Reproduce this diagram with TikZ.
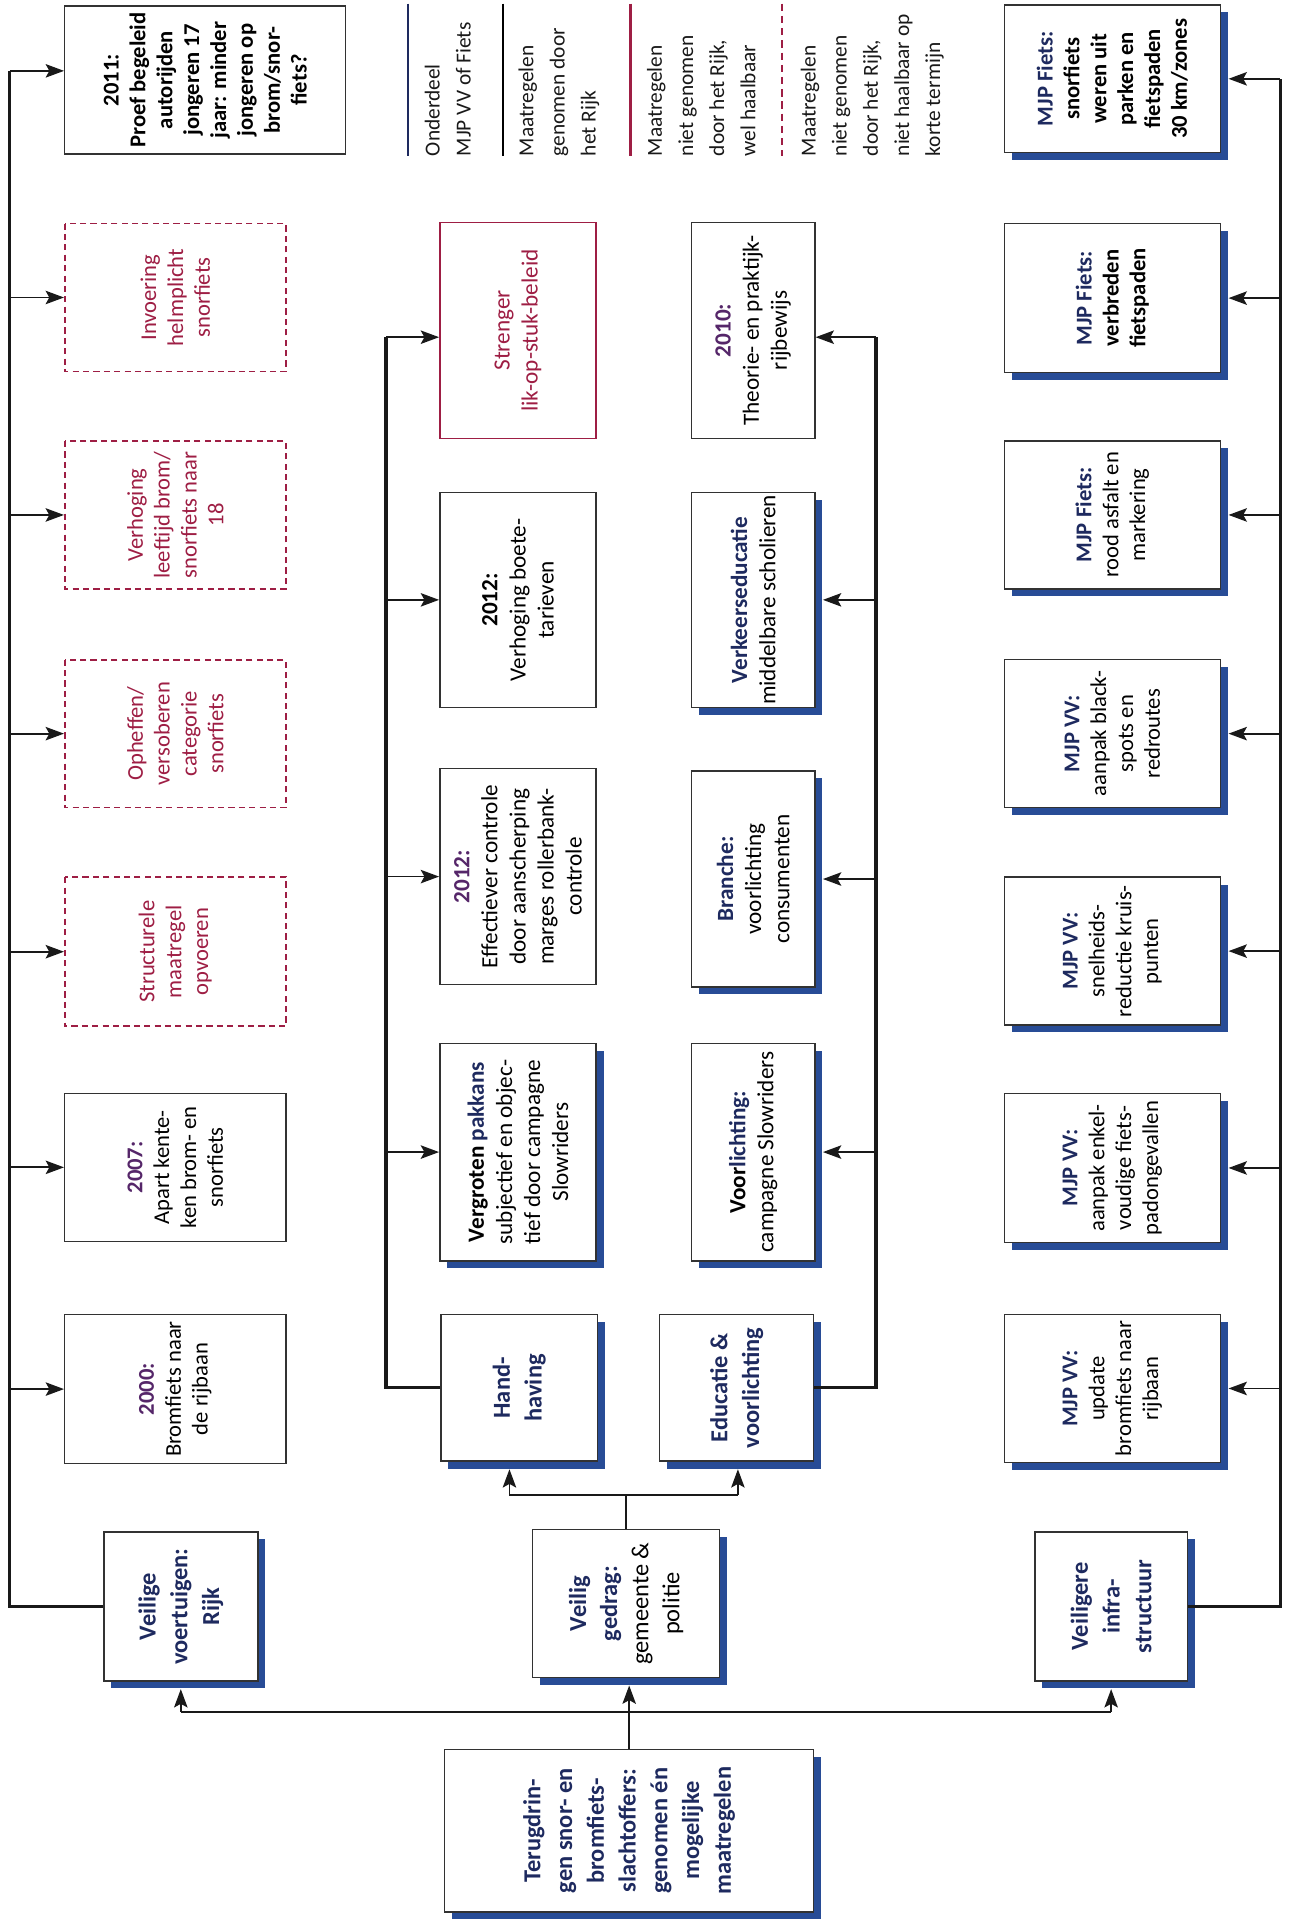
\documentclass[tikz,border=0pt]{standalone}
\usepackage{fontspec}
\setmainfont{Carlito}
\usetikzlibrary{arrows.meta}
\definecolor{navyt}{RGB}{30,42,95}
\definecolor{shadowb}{RGB}{40,76,150}
\definecolor{redc}{RGB}{158,30,68}
\definecolor{purp}{RGB}{85,38,105}
\definecolor{boxg}{RGB}{50,50,50}
\definecolor{lineg}{RGB}{25,25,25}
\newcommand\nv[1]{{\bfseries\color{navyt}#1}}
\newcommand\pb[1]{{\bfseries\color{purp}#1}}
\newcommand\mkbox[7]{\node[#6, minimum width={#5-#3}, minimum height={#4-#2}] (#1) at ({(#2+#4)/2},{(#3+#5)/2}) {#7};}
\newcommand\mkboxs[7]{\fill[shadowb] (#2+6,#3+6) rectangle (#4+6,#5+6); \mkbox{#1}{#2}{#3}{#4}{#5}{#6}{#7}}
\tikzset{
 bxb/.style={rotate=90, align=center, inner sep=0pt, fill=white, line width=1.2pt, font=\fontsize{18.5}{22}\selectfont},
 pbox/.style={bxb, draw=boxg},
 dbox/.style={bxb, draw=redc, line width=1.3pt, dash pattern=on 5pt off 3.5pt, text=redc},
 rbox/.style={bxb, draw=redc, text=redc},
 tbox/.style={bxb, draw=boxg, text=navyt, font=\bfseries\fontsize{20}{26}\selectfont},
 gbox/.style={bxb, draw=boxg, font=\fontsize{20}{25.5}\selectfont},
 wbox/.style={pbox, font=\fontsize{19}{23}\selectfont},
 conn/.style={draw=lineg, line width=1.5pt},
 trk/.style={draw=lineg, line width=2.6pt},
 arr/.style={conn, -{Stealth[length=15pt,width=11pt,inset=3pt]}},
 leg/.style={rotate=90, align=left, anchor=west, inner sep=0pt, text=black!90, font=\fontsize{17.5}{25.5}\selectfont},
}
\begin{document}
\begin{tikzpicture}[x=1pt,y=-1pt]
\fill[white] (0,0) rectangle (1060,1572.4);
\useasboundingbox (0,0) rectangle (1060,1572.4);

% legend
\draw[navyt, line width=1.8pt] (334,3) -- (334,128);
\node[leg] (lg1) at (366.5,128) {Onderdeel\\MJP VV of Fiets};
\draw[black, line width=1.6pt] (412,3) -- (412,128);
\node[leg] (lg2) at (457.5,128) {Maatregelen\\genomen door\\het Rijk};
\draw[redc, line width=1.8pt] (516,3) -- (516,128);
\node[leg] (lg3) at (574,128) {Maatregelen\\niet genomen\\door het Rijk,\\wel haalbaar};
\draw[redc, line width=1.3pt, dash pattern=on 6pt off 4pt] (640,3) -- (640,128);
\node[leg] (lg4) at (714,128) {Maatregelen\\niet genomen\\door het Rijk,\\niet haalbaar op\\korte termijn};

% left column
\mkbox{b1}{53}{5}{283}{126}{pbox, font=\bfseries\fontsize{18.5}{22}\selectfont}{2011:\\Proef begeleid\\autorijden\\jongeren 17\\jaar: minder\\jongeren op\\brom/snor-\\fiets?}
\mkbox{b2}{53}{183}{234}{304}{dbox}{Invoering\\helmplicht\\snorfiets}
\mkbox{b3}{53}{361}{234}{482}{dbox}{Verhoging\\leeftijd brom/\\snorfiets naar\\18}
\mkbox{b4}{53}{540}{234}{661}{dbox}{Opheffen/\\versoberen\\categorie\\snorfiets}
\mkbox{b5}{53}{718}{234}{840}{dbox}{Structurele\\maatregel\\opvoeren}
\mkbox{b6}{53}{895}{234}{1016}{pbox}{\pb{2007:}\\Apart kente-\\ken brom- en\\snorfiets}
\mkbox{b7}{53}{1076}{234}{1198}{pbox}{\pb{2000:}\\Bromfiets naar\\de rijbaan}
\mkboxs{vv}{85}{1254}{211}{1376}{tbox}{Veilige\\voertuigen:\\Rijk}
\mkboxs{tg}{364}{1432}{666}{1565}{tbox}{Terugdrin-\\gen snor- en\\bromfiets-\\slachtoffers:\\genomen én\\mogelijke\\maatregelen}

% middle top row
\mkbox{st}{360}{182}{488}{359}{rbox, font=\fontsize{19}{23}\selectfont}{Strenger\\lik-op-stuk-beleid}
\mkbox{m2}{360}{403}{488}{579}{wbox}{\textbf{2012:}\\Verhoging boete-\\tarieven}
\mkbox{m3}{360}{629}{488}{806}{wbox}{\pb{2012:}\\Effectiever controle\\door aanscherping\\marges rollerbank-\\controle}
\mkboxs{m4}{360}{854}{488}{1032}{wbox}{\textbf{Vergroten {\color{navyt}pakkans}}\\subjectief en objec-\\tief door campagne\\Slowriders}
\mkboxs{hh}{361}{1076}{489}{1196}{tbox}{Hand-\\having}

% middle bottom row
\mkbox{t10}{566}{182}{667}{359}{wbox}{\pb{2010:}\\Theorie- en praktijk-\\rijbewijs}
\mkboxs{ve}{566}{403}{667}{579}{wbox}{\nv{Verkeerseducatie}\\middelbare scholieren}
\mkboxs{br}{566}{631}{667}{808}{wbox}{\nv{Branche:}\\voorlichting\\consumenten}
\mkboxs{vo}{566}{854}{667}{1032}{wbox}{\textbf{Voor{\color{navyt}lichting:}}\\campagne Slowriders}
\mkboxs{ed}{540}{1076}{666}{1196}{tbox}{Educatie \&\\voorlichting}
\mkboxs{vg}{436}{1252}{589}{1373}{gbox}{\nv{Veilig}\\\nv{gedrag:}\\gemeente \&\\politie}

% right column
\mkboxs{vi}{847}{1254}{972}{1376}{tbox}{Veiligere\\infra-\\structuur}
\mkboxs{r1}{822}{4}{999}{125}{pbox, font=\bfseries\fontsize{18.5}{22}\selectfont}{\nv{MJP Fiets:}\\snorfiets\\weren uit\\parken en\\fietspaden\\30 km/zones}
\mkboxs{r2}{822}{183}{999}{305}{pbox, font=\bfseries\fontsize{18.5}{22}\selectfont}{\nv{MJP Fiets:}\\verbreden\\fietspaden}
\mkboxs{r3}{822}{361}{999}{482}{pbox}{\nv{MJP Fiets:}\\rood asfalt en\\markering}
\mkboxs{r4}{822}{540}{999}{661}{pbox}{\nv{MJP VV:}\\aanpak black-\\spots en\\redroutes}
\mkboxs{r5}{822}{718}{999}{839}{pbox}{\nv{MJP VV:}\\snelheids-\\reductie kruis-\\punten}
\mkboxs{r6}{822}{895}{999}{1017}{pbox}{\nv{MJP VV:}\\aanpak enkel-\\voudige fiets-\\padongevallen}
\mkboxs{r7}{822}{1076}{999}{1197}{pbox}{\nv{MJP VV:}\\update\\bromfiets naar\\rijbaan}

% left trunk
\coordinate (LT) at (8,58);
\draw[trk] (vv.north) -| (LT);
\draw[arr] (LT) -- (LT -| b1.north);
\foreach \b in {b2,b3,b4,b5,b6,b7} \draw[arr] (LT |- \b.center) -- (\b.north);

% middle trunk
\coordinate (MT) at (316,276);
\draw[trk] (hh.north) -| (MT);
\draw[arr] (MT) -- (MT -| st.north);
\foreach \b in {m2,m3,m4} \draw[arr] (MT |- \b.center) -- (\b.north);

% middle bottom trunk
\coordinate (BT) at (717,276);
\draw[trk] (ed.south) -| (BT);
\draw[arr] (BT) -- (BT -| t10.south);
\foreach \b in {ve,br,vo} \draw[arr] (BT |- \b.center) -- ([xshift=6pt]\b.south);

% right trunk
\coordinate (RT) at (1048,64.5);
\draw[conn, line width=2.1pt] (vi.south) -| (RT);
\foreach \b in {r1,r2,r3,r4,r5,r6,r7} \draw[arr] (RT |- \b.center) -- ([xshift=6pt]\b.south);

% bottom distribution
\coordinate (HB) at (514,1401);
\coordinate (vgs) at ([yshift=-6pt]vg.west);
\draw[arr] (tg.east) -- (tg.east |- vgs);
\draw[conn] (vv.west |- HB) -- (vi.west |- HB);
\draw[arr] (vv.west |- HB) -- ([yshift=-6pt]vv.west);
\draw[arr] (vi.west |- HB) -- ([yshift=-6pt]vi.west);

% top distribution
\coordinate (TB) at (513,1223.5);
\coordinate (TBL) at (417,1223.5);
\coordinate (TBR) at (604,1223.5);
\coordinate (hhs) at ([yshift=-6pt]hh.west);
\coordinate (eds) at ([yshift=-6pt]ed.west);
\draw[conn] (vg.east) -- (vg.east |- TB);
\draw[conn] (TBL) -- (TBR);
\draw[arr] (TBL) -- (TBL |- hhs);
\draw[arr] (TBR) -- (TBR |- eds);
\end{tikzpicture}
\end{document}
